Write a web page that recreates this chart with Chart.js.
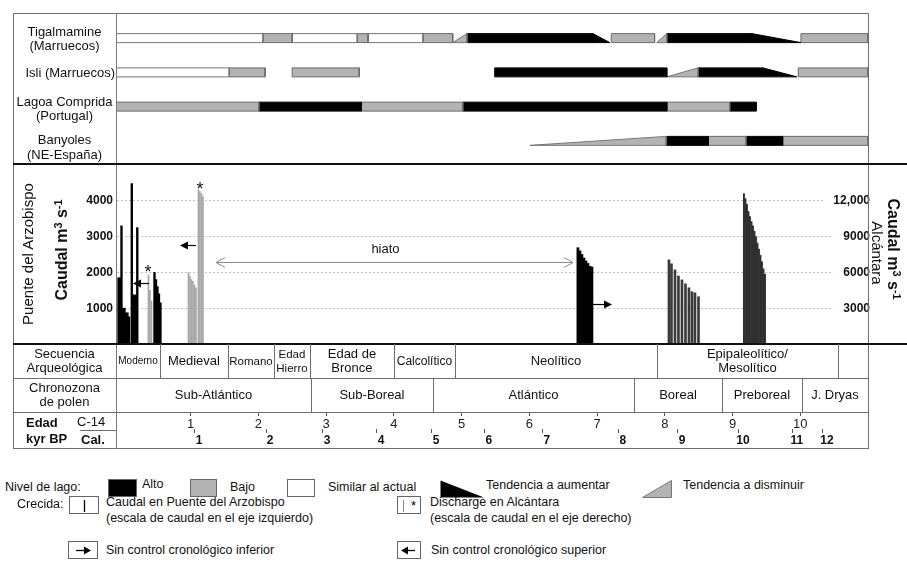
<!DOCTYPE html>
<html lang="es">
<head>
<meta charset="utf-8">
<title>Niveles de lago y paleocrecidas</title>
<script src="https://cdn.jsdelivr.net/npm/chart.js@4.4.1/dist/chart.umd.min.js"></script>
<style>
  html, body { margin: 0; padding: 0; background: #fff; }
  body { position: relative; width: 907px; height: 563px; overflow: hidden;
         font-family: "Liberation Sans", Arial, sans-serif; color: #111; }
  canvas { position: absolute; left: 0; }
  .ln { position: absolute; }
  .t { position: absolute; white-space: nowrap; font-size: 13px; line-height: 15px; }
  .c { position: absolute; display: flex; align-items: center; justify-content: center;
       text-align: center; font-size: 13px; line-height: 14px; }
  .rot { position: absolute; width: 240px; height: 22px; line-height: 22px; text-align: center; white-space: nowrap; }
  sup { font-size: 68%; line-height: 0; position: relative; top: -0.5em; vertical-align: baseline; }
  .leg { position: absolute; white-space: nowrap; font-size: 12.5px; line-height: 15px; }
  .box { position: absolute; border: 1px solid #666; box-sizing: border-box; background: #fff; }
</style>
</head>
<body>
<canvas id="cLagos" width="907" height="165" style="top:0"></canvas>
<canvas id="cCrecidas" width="907" height="210" style="top:150px"></canvas>
<canvas id="cEdad" width="907" height="36" style="top:412px"></canvas>
<div id="capa"></div>
<script>
/* ---------- datos (edad en kyr BP C-14) ---------- */
const XMIN = -0.1, XMAX = 11.0;

// niveles de lago: [inicio, fin, tipo]
const tigalmamine = [[-0.1, 2.07, "actual"], [2.07, 2.50, "bajo"], [2.50, 3.46, "actual"], [3.46, 3.62, "bajo"],
  [3.62, 4.43, "actual"], [4.43, 4.87, "bajo"], [4.87, 5.08, "dis"], [5.08, 6.94, "alto"], [6.94, 7.19, "aum"],
  [7.21, 7.85, "bajo"], [7.88, 8.03, "dis"], [8.03, 9.29, "alto"], [9.29, 10.01, "aum"], [10.01, 11.0, "bajo"]];
const isli = [[-0.1, 1.57, "actual"], [1.57, 2.10, "bajo"], [2.50, 3.49, "bajo"], [5.49, 8.03, "alto"],
  [8.03, 8.49, "dis"], [8.49, 9.45, "alto"], [9.45, 9.95, "aum"], [9.97, 11.0, "bajo"]];
const lagoa = [[-0.1, 2.01, "bajo"], [2.01, 3.52, "alto"], [3.52, 5.02, "bajo"], [5.02, 8.03, "alto"],
  [8.03, 8.96, "bajo"], [8.96, 9.35, "alto"]];
const banyoles = [[6.01, 8.02, "dis"], [8.02, 8.64, "alto"], [8.64, 9.20, "bajo"], [9.20, 9.74, "alto"], [9.74, 11.0, "bajo"]];

// crecidas
const edadPuente = [-0.063, -0.041, -0.019, 0.003, 0.025, 0.047, 0.069, 0.092, 0.133, 0.155, 0.177, 0.199, 0.214,
  0.468, 0.490, 0.512, 0.534, 0.556];
const caudalPuente = [1850, 1850, 3300, 1000, 1000, 870, 870, 760, 4480, 1370, 1370, 1370, 3250,
  2000, 1800, 1600, 1400, 1150];
const edadNeolitico = [6.718, 6.748, 6.777, 6.807, 6.836, 6.866, 6.896, 6.925];
const caudalNeolitico = [2690, 2600, 2500, 2400, 2320, 2250, 2170, 2150];
const edadAlcantara = [0.379, 0.401, 0.424, 0.970, 0.992, 1.014, 1.036, 1.058, 1.080, 1.117, 1.139, 1.162, 1.184];
const caudalAlcantara = [5790, 4500, 3600, 5970, 5700, 5400, 5250, 4950, 4710, 12930, 12780, 12600, 12360];
const edadEpipaleo = [8.062, 8.099, 8.151, 8.202, 8.254, 8.306, 8.357, 8.402, 8.446, 8.498];
const caudalEpipaleo = [2350, 2240, 2070, 1900, 1790, 1680, 1570, 1460, 1430, 1320];
const edadPreboreal = [9.169, 9.191, 9.213, 9.235, 9.257, 9.280, 9.302, 9.324, 9.346, 9.368, 9.390, 9.412, 9.434, 9.457, 9.479];
const caudalPreboreal = [4200, 4060, 3900, 3700, 3560, 3420, 3300, 3150, 3000, 2820, 2650, 2480, 2300, 2100, 1950];

const ticksIzq = [1000, 2000, 3000, 4000];
const etiquetasIzq = ["1000", "2000", "3000", "4000"];
const ticksDer = [3000, 6000, 9000, 12000];
const etiquetasDer = ["3000", "6000", "9000", "12,000"];
const ticksC14 = [1, 2, 3, 4, 5, 6, 7, 8, 9, 10];
const posCal = [1.066, 2.115, 2.955, 3.752, 4.564, 5.346, 6.202, 7.324, 8.195, 9.095, 9.890, 10.335];
const etiquetasCal = ["1", "2", "3", "4", "5", "6", "7", "8", "9", "10", "11", "12"];

// flechas [desde, punta, caudal], asteriscos [edad, caudal]
const flechas = [[0.387, 0.151, 1700], [1.080, 0.844, 2770], [6.940, 7.221, 1120]];
const asteriscos = [[0.372, 2120], [1.139, 4440]];
const hiato = [1.376, 6.645, 2290];

// tabla
const secuencia = ["Moderno", "Medieval", "Romano", "Edad<br>Hierro", "Edad de<br>Bronce", "Calcolítico", "Neolítico", "Epipaleolítico/<br>Mesolítico", ""];
const limSecuencia = [-0.1, 0.549, 1.553, 2.232, 2.763, 4.003, 4.903, 7.885, 10.556, 11.0];
const cronozona = ["Sub-Atlántico", "Sub-Boreal", "Atlántico", "Boreal", "Preboreal", "J. Dryas"];
const limCronozona = [-0.1, 2.778, 4.579, 7.546, 8.845, 10.025, 11.0];

Chart.defaults.font.family = '"Liberation Sans", Arial, sans-serif';
Chart.defaults.color = "#111";

/* ---------- helpers ---------- */
const capa = document.getElementById("capa");
function el(cls, html, css) {
  const d = document.createElement("div");
  d.className = cls; d.innerHTML = html; Object.assign(d.style, css);
  capa.appendChild(d); return d;
}
function linea(x, y, w, h, color) { el("ln", "", { left: x + "px", top: y + "px", width: w + "px", height: h + "px", background: color || "#6e6e6e" }); }
const pares = (xs, ys) => xs.map((x, i) => ({ x, y: ys[i] }));

/* ---------- niveles de lago ---------- */
const RELLENO = { alto: "#000", aum: "#000", bajo: "#b3b3b3", dis: "#b3b3b3", actual: "#fff" };
const BORDE = { alto: "#000", aum: "#000", bajo: "#6a6a6a", dis: "#777", actual: "#777" };
function poligono([x0, x1, tipo], fila) {
  const h = 0.131, t = fila - h, b = fila + h;
  if (tipo === "dis") return [{ x: x0, y: b }, { x: x1, y: t }, { x: x1, y: b }, { x: x0, y: b }];
  if (tipo === "aum") return [{ x: x0, y: t }, { x: x1, y: b }, { x: x0, y: b }, { x: x0, y: t }];
  return [{ x: x0, y: b }, { x: x0, y: t }, { x: x1, y: t }, { x: x1, y: b }, { x: x0, y: b }];
}
const dsLagos = [];
[tigalmamine, isli, lagoa, banyoles].forEach((fila, r) => fila.forEach((s) => dsLagos.push({
  data: poligono(s, r), showLine: true, fill: "shape", tension: 0, pointRadius: 0,
  backgroundColor: RELLENO[s[2]], borderColor: BORDE[s[2]], borderWidth: 1,
})));
new Chart(document.getElementById("cLagos"), {
  type: "scatter",
  data: { datasets: dsLagos },
  options: {
    responsive: false, animation: false, events: [],
    layout: { padding: { left: 116, right: 39, top: 21, bottom: 7 } },
    plugins: { legend: { display: false }, tooltip: { enabled: false } },
    scales: {
      x: { type: "linear", min: XMIN, max: XMAX, display: false },
      y: { type: "linear", min: -0.5, max: 3.5, reverse: true, display: false },
    },
  },
});

/* ---------- crecidas ---------- */
const notas = {
  id: "notas",
  afterDatasetsDraw(ch) {
    const x = ch.scales.x, y = ch.scales.y, g = ch.ctx;
    g.save();
    flechas.forEach(([a0, a1, q]) => {
      const x0 = x.getPixelForValue(a0), x1 = x.getPixelForValue(a1), py = Math.round(y.getPixelForValue(q)) + 0.5;
      const d = Math.sign(x1 - x0);
      g.strokeStyle = "#000"; g.lineWidth = 1.2;
      g.beginPath(); g.moveTo(x0, py); g.lineTo(x1 - d * 6, py); g.stroke();
      g.fillStyle = "#000";
      g.beginPath(); g.moveTo(x1, py); g.lineTo(x1 - d * 8, py - 4); g.lineTo(x1 - d * 8, py + 4); g.closePath(); g.fill();
    });
    const h0 = x.getPixelForValue(hiato[0]), h1 = x.getPixelForValue(hiato[1]), hy = Math.round(y.getPixelForValue(hiato[2])) + 0.5;
    g.strokeStyle = "#8c8c8c"; g.lineWidth = 1;
    g.beginPath(); g.moveTo(h0, hy); g.lineTo(h1, hy);
    g.moveTo(h0 + 9, hy - 5); g.lineTo(h0, hy); g.lineTo(h0 + 9, hy + 5);
    g.moveTo(h1 - 9, hy - 5); g.lineTo(h1, hy); g.lineTo(h1 - 9, hy + 5);
    g.stroke();
    g.fillStyle = "#111"; g.textAlign = "center"; g.textBaseline = "middle";
    g.font = '13px "Liberation Sans", Arial, sans-serif';
    g.fillText("hiato", (h0 + h1) / 2 - 9, hy - 13);
    g.font = '18px "Liberation Sans", Arial, sans-serif';
    asteriscos.forEach(([a, q]) => g.fillText("*", x.getPixelForValue(a), y.getPixelForValue(q) + 5));
    g.restore();
  },
};
const barra = (label, xs, ys, color, grosor, eje) => ({
  label, data: pares(xs, ys), backgroundColor: color, barThickness: grosor, yAxisID: eje, grouped: false, borderWidth: 0,
});
const fChart = new Chart(document.getElementById("cCrecidas"), {
  type: "bar",
  data: {
    datasets: [
      barra("Puente del Arzobispo", edadPuente, caudalPuente, "#000", 1.7, "y"),
      barra("Puente del Arzobispo (Neolítico)", edadNeolitico, caudalNeolitico, "#000", 2.1, "y"),
      barra("Alcántara", edadAlcantara, caudalAlcantara, "#a6a6a6", 1, "y2"),
      barra("Epipaleolítico", edadEpipaleo, caudalEpipaleo, "#3a3a3a", 2, "y"),
      barra("Preboreal", edadPreboreal, caudalPreboreal, "#2e2e2e", 1.3, "y"),
    ],
  },
  options: {
    responsive: false, animation: false, events: [],
    layout: { padding: { top: 15, bottom: 16 } },
    plugins: { legend: { display: false }, tooltip: { enabled: false } },
    scales: {
      x: { type: "linear", min: XMIN, max: XMAX, display: false, offset: false, grid: { offset: false } },
      y: {
        position: "left", min: 0, max: 5000,
        afterBuildTicks: (s) => { s.ticks = ticksIzq.map((v) => ({ value: v })); },
        afterFit: (s) => { s.width = 116; },
        grid: { color: "#c2c2c2", lineWidth: 1, drawTicks: false },
        border: { display: true, color: "#8a8a8a", dash: [2, 2] },
        ticks: { font: { size: 12, weight: "bold" }, color: "#111", padding: 3, callback: (v, i) => etiquetasIzq[i] },
      },
      y2: {
        position: "right", min: 0, max: 15000,
        afterBuildTicks: (s) => { s.ticks = ticksDer.map((v) => ({ value: v })); },
        afterFit: (s) => { s.width = 39; },
        grid: { display: false },
        border: { display: true, color: "#555" },
        ticks: {
          mirror: true, padding: 2, font: { size: 12, weight: "bold" }, color: "#111",
          showLabelBackdrop: true, backdropColor: "#fff", backdropPadding: { left: 10, right: 1, top: 2, bottom: 2 },
          callback: (v, i) => etiquetasDer[i],
        },
      },
    },
  },
  plugins: [notas],
});

/* ---------- edad ---------- */
new Chart(document.getElementById("cEdad"), {
  type: "scatter",
  data: { datasets: [] },
  options: {
    responsive: false, animation: false, events: [],
    layout: { padding: { left: 116, right: 39, top: 0, bottom: 0 } },
    plugins: { legend: { display: false }, tooltip: { enabled: false } },
    scales: {
      y: { display: false },
      x: {
        type: "linear", position: "bottom", weight: 0, min: XMIN, max: XMAX,
        afterBuildTicks: (s) => { s.ticks = ticksC14.map((v) => ({ value: v })); },
        afterFit: (s) => { s.height = 16; },
        grid: { drawOnChartArea: false, tickLength: 3, color: "#555" },
        border: { display: false },
        ticks: { font: { size: 13 }, color: "#222", padding: 1, autoSkip: false, maxRotation: 0, callback: (v, i) => String(ticksC14[i]) },
      },
      cal: {
        type: "linear", position: "bottom", weight: 1, min: XMIN, max: XMAX,
        afterBuildTicks: (s) => { s.ticks = posCal.map((v) => ({ value: v })); },
        afterFit: (s) => { s.height = 19; },
        grid: { drawOnChartArea: false, tickLength: 4, color: "#555" },
        border: { display: false },
        ticks: { font: { size: 12, weight: "bold" }, color: "#111", padding: 0, labelOffset: 4, autoSkip: false, maxRotation: 0, callback: (v, i) => etiquetasCal[i] },
      },
    },
  },
});

/* ---------- marco y tabla ---------- */
const px = (a) => fChart.scales.x.getPixelForValue(a);
linea(13, 13, 855, 1); linea(13, 448, 856, 1); linea(13, 13, 1, 436); linea(868, 13, 1, 436);
linea(116, 13, 1, 436, "#7a7a7a");
linea(13, 163, 894, 2, "#111"); linea(13, 343, 894, 2, "#111");
linea(13, 378, 855, 1); linea(13, 412, 855, 1); linea(80, 430, 36, 1);

function filaTabla(textos, lim, y0, y1) {
  textos.forEach((t, i) => {
    const a = px(lim[i]), b = px(lim[i + 1]);
    if (i > 0) linea(Math.round(a), y0, 1, y1 - y0);
    const c = el("c", "<span>" + t + "</span>", { left: a + "px", top: y0 + "px", width: (b - a) + "px", height: (y1 - y0) + "px" });
    const sp = c.firstChild; let f = 13;
    while (sp.offsetWidth > b - a - 3 && f > 9) { f -= 0.5; c.style.fontSize = f + "px"; }
  });
}
filaTabla(secuencia, limSecuencia, 344, 378);
filaTabla(cronozona, limCronozona, 378, 412);
el("c", "Secuencia<br>Arqueológica", { left: "13px", top: "344px", width: "103px", height: "34px" });
el("c", "Chronozona<br>de polen", { left: "13px", top: "378px", width: "103px", height: "34px" });
el("t", "<b>Edad</b>", { left: "26px", top: "415px" });
el("t", "<b>kyr BP</b>", { left: "26px", top: "431px" });
el("t", "C-14", { left: "77px", top: "414px" });
el("t", "<b>Cal.</b>", { left: "81px", top: "432px" });

// etiquetas de los lagos
el("c", "Tigalmamine<br>(Marruecos)", { left: "13px", top: "24px", width: "103px", height: "30px", lineHeight: "14.5px" });
el("t", "Isli (Marruecos)", { right: (907 - 115) + "px", top: "64.5px" });
el("c", "Lagoa Comprida<br>(Portugal)", { left: "13px", top: "94px", width: "103px", height: "30px", lineHeight: "14.5px" });
el("c", "Banyoles<br>(NE-España)", { left: "13px", top: "132px", width: "103px", height: "30px", lineHeight: "15px" });

// títulos de ejes
function rot(html, cx, cy, ang, css) {
  el("rot", html, Object.assign({ left: (cx - 120) + "px", top: (cy - 11) + "px", transform: "rotate(" + ang + "deg)" }, css));
}
rot("Puente del Arzobispo", 28, 254, -90, { fontSize: "15px" });
rot("Caudal m<sup>3</sup> s<sup>-1</sup>", 62, 250, -90, { fontSize: "16px", fontWeight: "bold" });
rot("Caudal m<sup>3</sup> s<sup>-1</sup>", 893, 249, 90, { fontSize: "16px", fontWeight: "bold" });
rot("Alcántara", 877, 253, 90, { fontSize: "15px" });

/* ---------- leyenda ---------- */
const svg = (w, h, inner) => '<svg width="' + w + '" height="' + h + '" style="position:absolute;left:0;top:0">' + inner + "</svg>";
function caja(x, y, w, h, fondo, html) {
  return el("box", html || "", { left: x + "px", top: y + "px", width: w + "px", height: h + "px", background: fondo });
}
el("leg", "Nivel de lago:", { left: "5px", top: "480px" });
caja(108, 479, 29, 18, "#000");
el("leg", "Alto", { left: "142px", top: "477px" });
caja(190, 479, 27, 18, "#b3b3b3");
el("leg", "Bajo", { left: "230px", top: "480px" });
caja(287, 479, 28, 18, "#fff");
el("leg", "Similar al actual", { left: "328px", top: "480px" });
el("ln", svg(45, 18, '<polygon points="0.5,0.5 44,17.5 0.5,17.5" fill="#000"/>'), { left: "440px", top: "480px", width: "45px", height: "18px" });
el("leg", "Tendencia a aumentar", { left: "486px", top: "478px" });
el("ln", svg(30, 18, '<polygon points="0.5,17.5 29.5,0.5 29.5,17.5" fill="#b3b3b3" stroke="#777" stroke-width="1"/>'), { left: "642px", top: "480px", width: "30px", height: "18px" });
el("leg", "Tendencia a disminuir", { left: "683px", top: "478px" });

el("leg", "Crecida:", { left: "17px", top: "497px" });
caja(69, 496, 30, 18, "#fff", svg(28, 16, '<line x1="14.5" y1="3" x2="14.5" y2="15" stroke="#000" stroke-width="1.3"/>'));
el("leg", "Caudal en Puente del Arzobispo<br>(escala de caudal en el eje izquierdo)", { left: "106px", top: "494px", lineHeight: "16px" });
caja(397, 496, 24, 18, "#fff", svg(22, 16, '<line x1="5.5" y1="3" x2="5.5" y2="15" stroke="#888" stroke-width="1"/><text x="13" y="13" font-size="13" font-family="Liberation Sans, Arial" fill="#000">*</text>'));
el("leg", "Discharge en Alcántara<br>(escala de caudal en el eje derecho)", { left: "430px", top: "494px", lineHeight: "16px" });

caja(68, 541, 30, 18, "#fff", svg(28, 16, '<line x1="7" y1="8.5" x2="17" y2="8.5" stroke="#000" stroke-width="1.3"/><polygon points="22,8.5 15,4.5 15,12.5" fill="#000"/>'));
el("leg", "Sin control cronológico inferior", { left: "106px", top: "543px" });
caja(397, 541, 24, 18, "#fff", svg(22, 16, '<line x1="8" y1="8.5" x2="17" y2="8.5" stroke="#000" stroke-width="1.3"/><polygon points="3,8.5 10,4.5 10,12.5" fill="#000"/>'));
el("leg", "Sin control cronológico superior", { left: "431px", top: "543px" });
</script>
</body>
</html>
